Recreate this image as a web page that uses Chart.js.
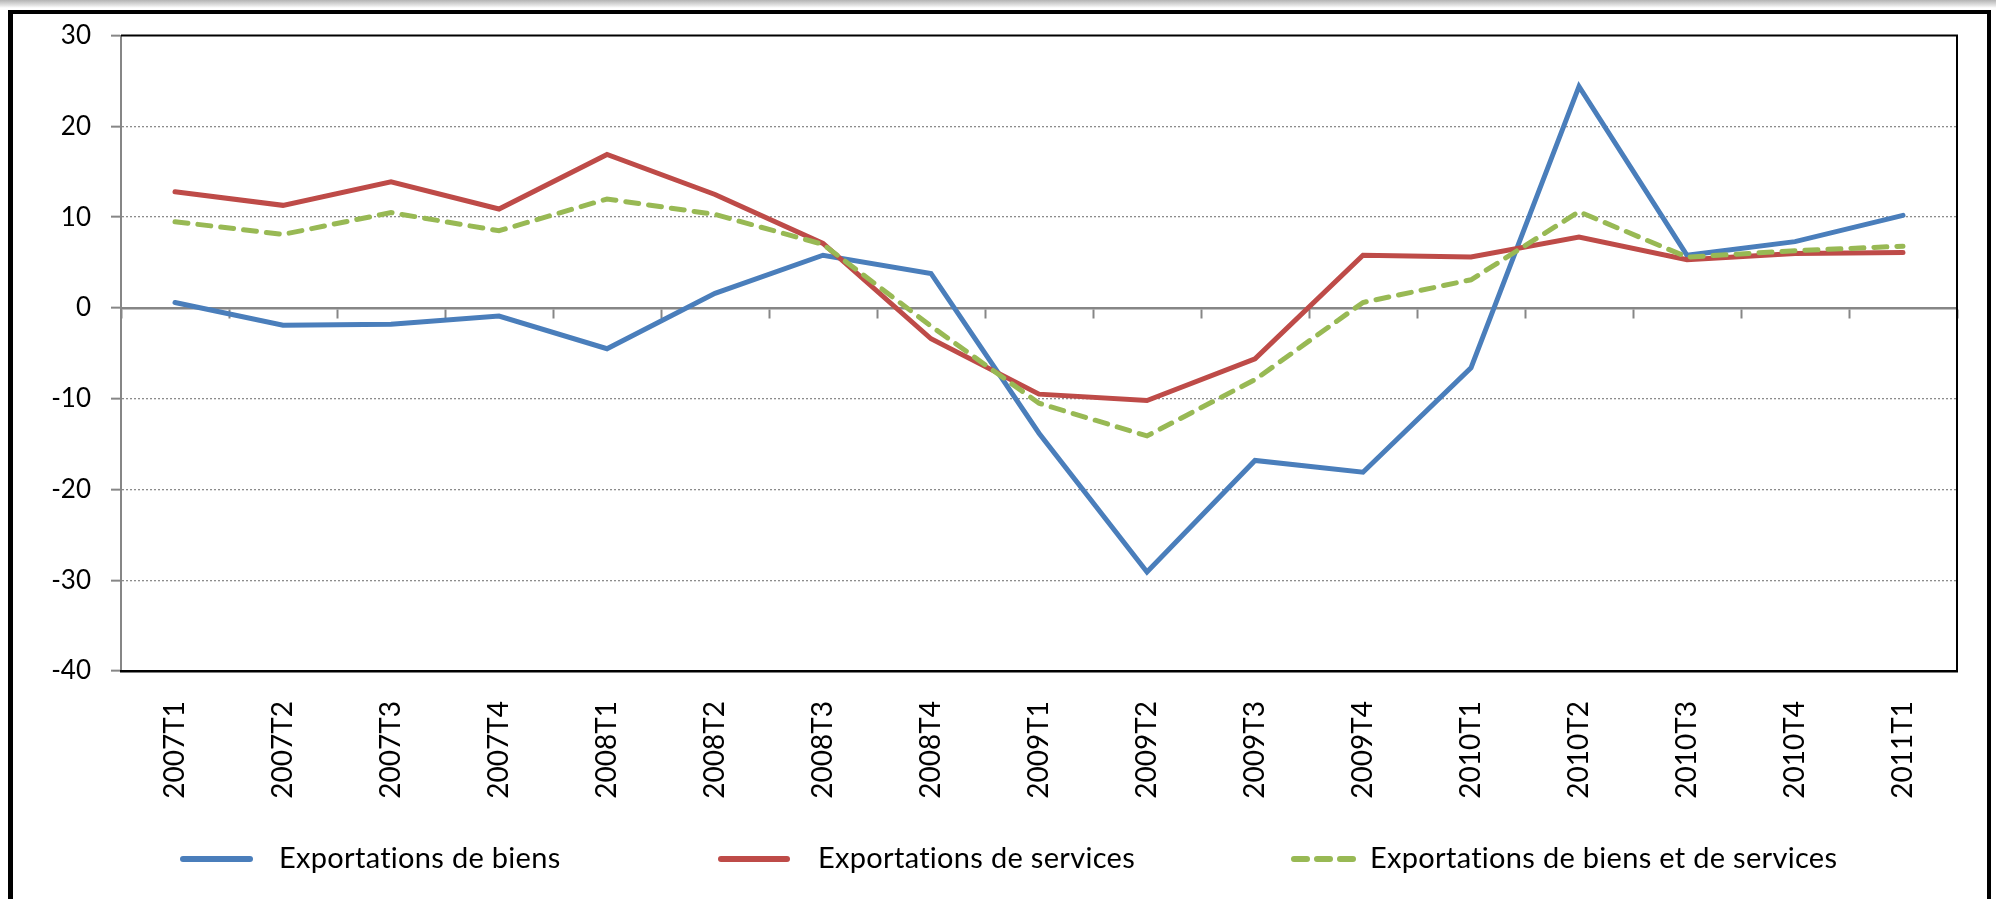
<!DOCTYPE html>
<html>
<head>
<meta charset="utf-8">
<script src="https://cdn.jsdelivr.net/npm/chart.js@4.4.1/dist/chart.umd.min.js"></script>
<style>
  html, body { margin: 0; padding: 0; width: 1996px; height: 899px; overflow: hidden; background: #fff; }
  #strip { position: absolute; left: 0; top: 0; width: 1996px; height: 8px;
           background: linear-gradient(#b4b4b4, #e6e6e6 70%, #ffffff); }
  #frame { position: absolute; left: 8px; top: 10px; width: 1983px; height: 1000px;
           border-left: 5px solid #000; border-top: 4px solid #000; border-right: 4px solid #000;
           box-sizing: border-box; }
  #c { position: absolute; left: 0; top: 0; }
</style>
</head>
<body>
<div id="strip"></div>
<div id="frame"></div>
<canvas id="c" width="1996" height="899"></canvas>
<script>
// ---- data ----
const categories = ['2007T1','2007T2','2007T3','2007T4','2008T1','2008T2','2008T3','2008T4',
                    '2009T1','2009T2','2009T3','2009T4','2010T1','2010T2','2010T3','2010T4','2011T1'];
const exportBiens    = [0.6, -1.9, -1.8, -0.9, -4.5, 1.6, 5.8, 3.8, -13.8, -29.1, -16.8, -18.1, -6.6, 24.4, 5.8, 7.3, 10.2];
const exportServices = [12.8, 11.3, 13.9, 10.9, 16.9, 12.5, 7.1, -3.4, -9.5, -10.2, -5.6, 5.8, 5.6, 7.8, 5.3, 6.0, 6.1];
const exportTotal    = [9.5, 8.1, 10.5, 8.5, 12.0, 10.3, 7.0, -2.0, -10.5, -14.1, -7.9, 0.6, 3.1, 10.6, 5.6, 6.3, 6.8];
const seriesNames = ['Exportations de biens', 'Exportations de services', 'Exportations de biens et de services'];
const yTicks = { min: -40, max: 30, step: 10 };

// ---- styles / layout ----
const FONT = 'Lato, "Open Sans", sans-serif';
const legendLayout = [ {x0: 180, x1: 253, tx: 279}, {x0: 718, x1: 790, tx: 818}, {x0: 1291, x1: 1356, tx: 1370} ];
const legendY = 859;

const frameLines = {
  id: 'frameLines',
  beforeDatasetsDraw(chart) {
    const {ctx, chartArea: a} = chart;
    ctx.save();
    ctx.strokeStyle = '#000';
    ctx.lineWidth = 2;
    ctx.beginPath();
    ctx.moveTo(a.left, a.top);
    ctx.lineTo(a.right, a.top);
    ctx.lineTo(a.right, a.bottom);
    ctx.stroke();
    ctx.restore();
  }
};

const customLegend = {
  id: 'customLegend',
  afterDraw(chart) {
    const ctx = chart.ctx;
    ctx.save();
    chart.data.datasets.forEach((ds, i) => {
      const L = legendLayout[i];
      ctx.beginPath();
      ctx.strokeStyle = ds.borderColor;
      ctx.lineWidth = 6;
      ctx.lineCap = 'round';
      ctx.setLineDash(ds.borderDash || []);
      ctx.moveTo(L.x0 + 3, legendY);
      ctx.lineTo(L.x1 - 3, legendY);
      ctx.stroke();
      ctx.setLineDash([]);
      ctx.fillStyle = '#000';
      ctx.font = '29px ' + FONT;
      if ('letterSpacing' in ctx) ctx.letterSpacing = '0.3px';
      ctx.textBaseline = 'middle';
      ctx.textAlign = 'left';
      ctx.fillText(ds.label, L.tx, legendY);
      if ('letterSpacing' in ctx) ctx.letterSpacing = '0px';
    });
    ctx.restore();
  }
};

function build() {
  new Chart(document.getElementById('c'), {
    type: 'line',
    data: {
      labels: categories,
      datasets: [
        { label: seriesNames[0], data: exportBiens, borderColor: '#4A7EBB', borderWidth: 5,
          pointRadius: 0, tension: 0, borderCapStyle: 'round', order: 2, fill: false },
        { label: seriesNames[1], data: exportServices, borderColor: '#BE4B48', borderWidth: 5,
          pointRadius: 0, tension: 0, borderCapStyle: 'round', order: 1, fill: false },
        { label: seriesNames[2], data: exportTotal, borderColor: '#98B954', borderWidth: 5,
          borderDash: [13, 10], pointRadius: 0, tension: 0, borderCapStyle: 'round', order: 0, fill: false }
      ]
    },
    options: {
      responsive: false,
      animation: false,
      devicePixelRatio: 1,
      layout: { padding: { top: 32, right: 39, left: 0, bottom: 0 } },
      plugins: { legend: { display: false }, tooltip: { enabled: false } },
      scales: {
        y: {
          min: yTicks.min, max: yTicks.max,
          ticks: { stepSize: yTicks.step, color: '#000', padding: 20, font: { family: FONT, size: 26 } },
          grid: {
            color: c => ([0, 30, -40].includes(c.tick.value) ? 'rgba(0,0,0,0)' : '#8c8c8c'),
            lineWidth: 1.3, tickLength: 10, tickColor: '#868686', tickWidth: 2, tickBorderDash: []
          },
          border: { display: true, color: '#868686', width: 2, dash: [2, 2] },
          afterFit: s => { s.width = 121; }
        },
        x: {
          position: 'bottom',
          offset: true,
          grid: { display: false, drawTicks: false },
          border: { display: true, color: '#000', width: 2.5 },
          ticks: { autoSkip: false, minRotation: 90, maxRotation: 90, padding: 30, color: '#000',
                   font: { family: FONT, size: 28 } },
          afterFit: s => { s.height = 228; }
        },
        x2: {
          type: 'category',
          position: { y: 0 },
          offset: true,
          grid: { drawOnChartArea: false, offset: true, tickLength: 9, color: '#868686',
                  tickColor: '#868686', tickWidth: 2 },
          border: { display: true, color: '#868686', width: 2.5 },
          ticks: { display: false }
        }
      }
    },
    plugins: [frameLines, customLegend]
  });
}

if (document.fonts && document.fonts.load) {
  Promise.all([document.fonts.load('26px Lato'), document.fonts.load('29px Lato')]).then(build, build);
} else { build(); }
</script>
</body>
</html>
